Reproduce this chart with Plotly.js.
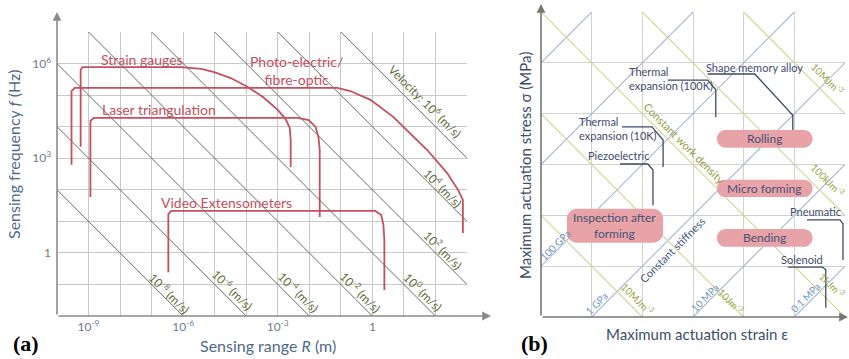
<!DOCTYPE html>
<html><head><meta charset="utf-8">
<script src="https://cdn.plot.ly/plotly-3.0.1.min.js"></script>
<style>html,body{margin:0;padding:0;background:#fff}#chart{width:849px;height:359px}</style>
</head><body><div id="chart"></div>
<script>
// ===== Panel (a): sensing range R (m) vs sensing frequency f (Hz), log10 exponents =====
const rangeExps = [-10,-9,-8,-7,-6,-5,-4,-3,-2,-1,0,1,2,3];
const rangeTickText = ['','10<sup>-9</sup>','','','10<sup>-6</sup>','','','10<sup>-3</sup>','','','1','','',''];
const freqExps = [-2,-1,0,1,2,3,4,5,6,7];
const freqTickText = ['','','1','','','10<sup>3</sup>','','','10<sup>6</sup>',''];

const velocityExps = [-8,-6,-4,-2,0,2,4,6];
const velocityLabels = ['10<sup>-8</sup> (m/s)','10<sup>-6</sup> (m/s)','10<sup>-4</sup> (m/s)','10<sup>-2</sup> (m/s)',
  '10<sup>0</sup> (m/s)','10<sup>2</sup> (m/s)','10<sup>4</sup> (m/s)','Velocity: 10<sup>6</sup> (m/s)'];

const sensorNames = ['Strain gauges','Photo-electric/<br>fibre-optic','Laser triangulation','Video Extensometers'];
const strainLogR = [-9.25,-9.25,-9.19,-6.06,-5.43,-5.02,-4.49,-3.95,-3.47,-3.00,-2.75,-2.62,-2.59,-2.59];
const strainLogF = [3.36,5.80,5.89,5.89,5.83,5.73,5.54,5.26,4.94,4.53,4.24,3.96,3.58,2.72];
const photoLogR  = [-9.54,-9.54,-9.44,-1.11,-0.70,-0.06,0.66,1.20,1.74,2.37,2.72,2.87,2.87];
const photoLogF  = [2.79,5.13,5.23,5.23,5.13,4.85,4.31,3.80,3.26,2.53,1.99,1.68,0.63];
const laserLogR  = [-8.94,-8.94,-8.84,-2.37,-2.02,-1.80,-1.71,-1.67,-1.67];
const laserLogF  = [1.77,4.18,4.28,4.28,4.21,3.99,3.67,3.26,1.14];
const videoLogR  = [-6.47,-6.47,-6.38,0.09,0.28,0.35,0.38,0.38];
const videoLogF  = [-0.61,1.23,1.33,1.33,1.20,0.89,0.41,-1.18];

// ===== Panel (b): actuation strain vs stress, in decades of the chart grid =====
const gridDecades = [0,1,2,3,4,5,6];
const modulusOffsets = [-5,-3,-1,1,3,5];        // strain decade - stress decade
const modulusLabels = {'-1':'100 GPa','1':'1 GPa','3':'10 MPa','5':'0.1 MPa'};
const workOffsets = [2,4,6,8,10];               // strain decade + stress decade
const workLabels = {'2':'10MJm<sup>-3</sup>','4':'10Jm<sup>-3</sup>','6':'1kJm<sup>-3</sup>','8':'100kJm<sup>-3</sup>','10':'10MJm<sup>-3</sup>'};

const actuatorNames = ['Thermal<br>expansion (100K)','Shape memory alloy','Thermal<br>expansion (10K)','Piezoelectric','Pneumatic','Solenoid'];
const thermal100Strain = [2.50,3.29,3.45,3.45], thermal100Stress = [4.66,4.66,4.47,3.93];
const smaStrain = [3.29,4.22,4.97,4.97],        smaStress = [4.78,4.78,3.97,3.68];
const thermal10Strain = [1.60,2.19,2.41,2.41],  thermal10Stress = [3.74,3.74,3.48,2.95];
const piezoStrain = [1.56,2.11,2.21,2.21],      piezoStress = [3.01,3.01,2.89,2.20];
const pneumaticStrain = [5.25,5.90,5.96,5.96],  pneumaticStress = [1.91,1.91,1.83,1.12];
const solenoidStrain = [4.87,5.56,5.62,5.62],   solenoidStress = [0.98,0.98,0.93,0.18];

const processNames = ['Rolling','Micro forming','Bending','Inspection after<br>forming'];

// ---------------------------------------------------------------------------
const W = 849, H = 359;
const FONT = 'Lato, "Open Sans", sans-serif';
const RED = '#c4505c', OLIVE = '#5e6d3c';
const pow10 = a => a.map(e => Math.pow(10, e));
const traces = [];

// velocity diagonals (v = f * R)
velocityExps.forEach(e => {
  const r0 = Math.max(-10, e - 7), r1 = Math.min(3, e + 2);
  traces.push({x: pow10([r0, r1]), y: pow10([e - r0, e - r1]), xaxis:'x', yaxis:'y', mode:'lines',
    line:{color:'#6a6a6a', width:1}, hoverinfo:'skip', showlegend:false});
});
// sensor curves
[[strainLogR,strainLogF],[photoLogR,photoLogF],[laserLogR,laserLogF],[videoLogR,videoLogF]].forEach((s,i)=>{
  traces.push({x: pow10(s[0]), y: pow10(s[1]), xaxis:'x', yaxis:'y', mode:'lines', name: sensorNames[i],
    line:{color:RED, width:1.8}, showlegend:false});
});

// panel b diagonals
modulusOffsets.forEach(c => {
  const i0 = Math.max(0, c), i1 = Math.min(6, 6 + c);
  traces.push({x:[i0,i1], y:[i0-c, i1-c], xaxis:'x2', yaxis:'y2', mode:'lines',
    line:{color:'#a7b9d4', width:1.1}, hoverinfo:'skip', showlegend:false});
});
workOffsets.forEach(c => {
  const i0 = Math.max(0, c - 6), i1 = Math.min(6, c);
  traces.push({x:[i0,i1], y:[c-i0, c-i1], xaxis:'x2', yaxis:'y2', mode:'lines',
    line:{color:'#cfd592', width:1.1}, hoverinfo:'skip', showlegend:false});
});
[[thermal100Strain,thermal100Stress],[smaStrain,smaStress],[thermal10Strain,thermal10Stress],
 [piezoStrain,piezoStress],[pneumaticStrain,pneumaticStress],[solenoidStrain,solenoidStress]].forEach((s,i)=>{
  traces.push({x:s[0], y:s[1], xaxis:'x2', yaxis:'y2', mode:'lines', name: actuatorNames[i],
    line:{color:'#3f4a68', width:1.3}, showlegend:false});
});

// ---------------------------------------------------------------------------
const ann = [];
const A = (o) => ann.push(Object.assign({showarrow:false, xanchor:'center', yanchor:'middle', font:{family:FONT}}, o));

// sensor labels
const sensorLabelPos = [[-7.30,6.14],[-2.40,5.78],[-6.76,4.53],[-4.64,1.61]];
sensorNames.forEach((n,i)=>A({xref:'x', yref:'y', x:sensorLabelPos[i][0], y:sensorLabelPos[i][1], text:n,
  font:{family:FONT, size:14, color:RED}}));
// velocity labels
const velLabelPos = [[-6.44,-1.27],[-4.42,-1.17],[-2.34,-1.24],[-0.38,-1.24],[1.61,-1.24],[2.24,0.09],[2.24,2.06],[1.67,4.81]];
velocityLabels.forEach((t,i)=>A({xref:'x', yref:'y', x:velLabelPos[i][0], y:velLabelPos[i][1], text:t, textangle:45,
  font:{family:FONT, size:12, color:OLIVE}}));

// axis titles (a)
A({xref:'paper', yref:'paper', x:13/W, y:1-154/H, text:'Sensing frequency <i>f</i> (Hz)', textangle:-90,
  font:{family:FONT, size:16, color:'#4f6a8c'}});
A({xref:'paper', yref:'paper', x:268/W, y:1-345/H, text:'Sensing range <i>R</i> (m)',
  font:{family:FONT, size:16, color:'#4f6a8c'}});
A({xref:'paper', yref:'paper', x:26/W, y:1-343/H, text:'<b>(a)</b>', font:{family:'"Liberation Serif", serif', size:22, color:'#000'}});
A({xref:'paper', yref:'paper', x:534/W, y:1-343/H, text:'<b>(b)</b>', font:{family:'"Liberation Serif", serif', size:22, color:'#000'}});

// axis arrows
const arrow = (x,y,ax,ay,c)=>ann.push({xref:'paper', yref:'paper', x:x/W, y:1-y/H, ax:ax, ay:ay, axref:'pixel', ayref:'pixel',
  text:'', showarrow:true, arrowhead:2, arrowsize:1.1, arrowwidth:1.6, arrowcolor:c});
arrow(491,316,-434,0,'#8a8a8a');
arrow(57,12,0,304,'#8a8a8a');
arrow(849,317,-308,0,'#777');
arrow(541,4,0,313,'#777');

// panel b labels
const modLabelPos = {'-1':[0.28,1.42],'1':[1.10,0.28],'3':[3.23,0.37],'5':[5.23,0.39]};
Object.keys(modulusLabels).forEach(k=>A({xref:'x2', yref:'y2', x:modLabelPos[k][0], y:modLabelPos[k][1],
  text:modulusLabels[k], textangle:-45, font:{family:FONT, size:10, color:'#6f93c4'}}));
const workLabelPos = {'2':[1.91,0.37],'4':[3.75,0.33],'6':[5.74,0.63],'8':[5.66,2.70],'10':[5.66,4.70]};
Object.keys(workLabels).forEach(k=>A({xref:'x2', yref:'y2', x:workLabelPos[k][0], y:workLabelPos[k][1],
  text:workLabels[k], textangle:45, font:{family:FONT, size:10, color:'#9aa343'}}));
A({xref:'x2', yref:'y2', x:2.84, y:3.42, text:'Constant work density', textangle:45, font:{family:FONT, size:11, color:'#8f9a3c'}});
A({xref:'x2', yref:'y2', x:2.60, y:1.32, text:'Constant stiffness', textangle:-45, font:{family:FONT, size:11, color:'#3f5782'}});

const actLabelPos = [[1.70,4.69,'left'],[4.22,4.90,'center'],[0.71,3.71,'left'],[1.52,3.17,'center'],[5.42,2.07,'center'],[5.15,1.14,'center']];
actuatorNames.forEach((n,i)=>A({xref:'x2', yref:'y2', x:actLabelPos[i][0], y:actLabelPos[i][1], text:n,
  xanchor:actLabelPos[i][2], align:'left', font:{family:FONT, size:11, color:'#3f4a6e'}}));

// process boxes
const boxes = [[3.47,5.36,3.33,3.68],[3.47,5.36,2.36,2.70],[3.47,5.36,1.38,1.73],[0.51,2.41,1.46,2.13]];
const shapes = [];
function rrect(x0,x1,y0,y1,rx,ry){
  const k=0.5523, cx=rx*k, cy=ry*k;
  return `M${x0+rx},${y0} L${x1-rx},${y0} C${x1-rx+cx},${y0} ${x1},${y0+ry-cy} ${x1},${y0+ry} L${x1},${y1-ry} C${x1},${y1-ry+cy} ${x1-rx+cx},${y1} ${x1-rx},${y1} L${x0+rx},${y1} C${x0+rx-cx},${y1} ${x0},${y1-ry+cy} ${x0},${y1-ry} L${x0},${y0+ry} C${x0},${y0+ry-cy} ${x0+rx-cx},${y0} ${x0+rx},${y0} Z`;
}
boxes.forEach((b,i)=>{
  const r = i===3 ? 0.2 : (b[3]-b[2])/2;
  shapes.push({type:'path', xref:'x2', yref:'y2', path:rrect(b[0],b[1],b[2],b[3],r,r), fillcolor:'#e8a3a8',
    line:{width:0}, layer:'above'});
  A({xref:'x2', yref:'y2', x:(b[0]+b[1])/2, y:(b[2]+b[3])/2, text:processNames[i], font:{family:FONT, size:12, color:'#4a5275'}});
});

// axis titles (b)
A({xref:'paper', yref:'paper', x:525/W, y:1-165/H, text:'Maximum actuation stress σ (MPa)', textangle:-90,
  font:{family:FONT, size:15, color:'#3e4e6b'}});
A({xref:'paper', yref:'paper', x:697/W, y:1-334/H, text:'Maximum actuation strain ε',
  font:{family:FONT, size:15, color:'#3e4e6b'}});

const gridA = {showgrid:true, gridcolor:'#c9c9c9', gridwidth:1, zeroline:false, showline:false, ticks:'',
  tickfont:{family:FONT, size:12, color:'#6f7a8a'}, fixedrange:true};
const layout = {
  width:W, height:H, margin:{l:0,r:0,t:0,b:0}, paper_bgcolor:'#fff', plot_bgcolor:'#fff', showlegend:false,
  xaxis: Object.assign({}, gridA, {type:'log', range:[-10,3], domain:[57/W, 467/W], anchor:'y',
    tickmode:'array', tickvals:pow10(rangeExps), ticktext:rangeTickText, ticklabelstandoff:2}),
  yaxis: Object.assign({}, gridA, {type:'log', range:[-2,7], domain:[1-316/H, 1-32/H], anchor:'x',
    tickmode:'array', tickvals:pow10(freqExps), ticktext:freqTickText, ticklabelstandoff:5}),
  xaxis2: Object.assign({}, gridA, {range:[0,6], domain:[541/W, 845/W], anchor:'y2', tickmode:'array', tickvals:gridDecades, showticklabels:false, gridcolor:'#d2d2d2'}),
  yaxis2: Object.assign({}, gridA, {range:[0,6], domain:[1-317/H, 1-12/H], anchor:'x2', tickmode:'array', tickvals:gridDecades, showticklabels:false, gridcolor:'#d2d2d2'}),
  annotations: ann, shapes: shapes
};
Plotly.newPlot('chart', traces, layout, {staticPlot:true, displayModeBar:false});
</script></body></html>
